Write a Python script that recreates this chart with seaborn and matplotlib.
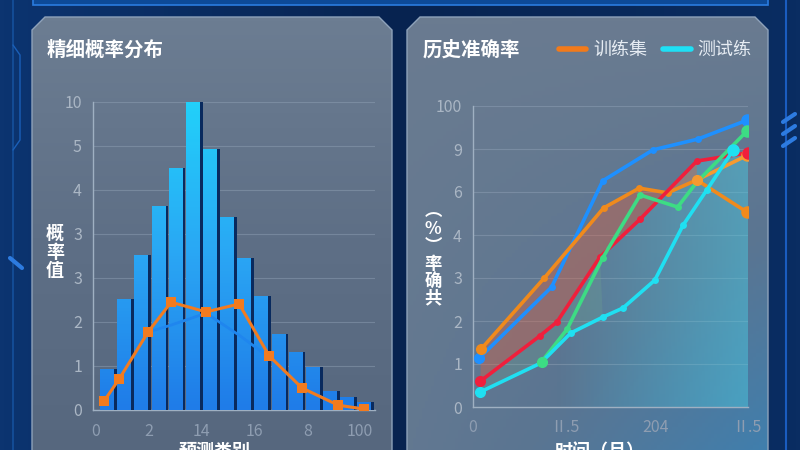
import numpy as np
import pandas as pd
import seaborn as sns
import matplotlib.pyplot as plt
from matplotlib.patches import Polygon, Rectangle
from matplotlib.lines import Line2D
from matplotlib.colors import LinearSegmentedColormap
import matplotlib.patheffects as pe

sns.set_theme(style="white")
plt.rcParams['font.family'] = ['Noto Sans CJK SC', 'DejaVu Sans']

# ---- left panel: 精细概率分布 ----
bar_vals = [0.93, 2.52, 3.52, 4.64, 5.5, 7.07, 5.93, 4.39, 3.45, 2.59,
            1.73, 1.32, 0.98, 0.43, 0.30, 0.18]
dist_x = [-0.18, 0.70, 2.39, 3.74, 5.78, 7.71, 9.46, 11.38, 13.49, 15.0]
dist_y = [0.2, 0.70, 1.77, 2.45, 2.23, 2.41, 1.23, 0.5, 0.11, 0.02]
trend_x = [2.39, 3.74, 5.78, 7.71, 9.46, 11.38, 13.49, 15.0]
trend_y = [1.77, 1.93, 2.2, 1.7, 1.2, 0.5, 0.11, 0.02]
left_ylabels = ["0", "1", "2", "3", "3", "4", "5", "10"]
left_xlabels = ["0", "2", "14", "16", "8", "100"]

# ---- right panel: 历史准确率 ----
train_x = [0.09, 0.78, 1.43, 1.82, 2.13, 2.45, 3.0]
train_y = [1.35, 3.0, 4.63, 5.09, 4.98, 5.28, 4.53]
train2_x = [2.45, 3.0]
train2_y = [5.28, 5.85]
blue_x = [0.07, 0.86, 1.42, 1.97, 2.46, 3.0]
blue_y = [1.14, 2.79, 5.26, 5.98, 6.23, 6.67]
red_x = [0.08, 0.73, 0.92, 1.39, 1.83, 2.45, 3.01]
red_y = [0.6, 1.65, 1.98, 3.49, 4.37, 5.72, 5.91]
green_x = [0.75, 1.03, 1.42, 1.83, 2.24, 2.45, 3.0]
green_y = [1.05, 1.81, 3.47, 4.93, 4.65, 5.23, 6.42]
test_x = [0.08, 0.74, 1.07, 1.42, 1.64, 1.99, 2.30, 2.56, 2.85]
test_y = [0.35, 1.02, 1.72, 2.09, 2.30, 2.95, 4.23, 5.05, 5.98]
right_ylabels = ["0", "1", "2", "3", "4", "6", "9", "100"]
right_xlabels = ["0", "Ⅱ.5", "204", "Ⅱ.5"]

fig = plt.figure(figsize=(8, 4.5), dpi=100)
fig.patch.set_facecolor("#08244f")

# background layer in pixel coordinates
bg = fig.add_axes([0, 0, 1, 1], zorder=-10)
bg.set_xlim(0, 800)
bg.set_ylim(450, 0)
bg.axis("off")
bgrad = np.linspace(0, 1, 200).reshape(1, -1)
bg.imshow(bgrad, extent=(0, 800, 450, 0), aspect="auto",
          cmap=LinearSegmentedColormap.from_list("b", ["#0c3470", "#072350", "#0a2d62"]))
bg.add_patch(Rectangle((33, -6), 735, 11, fc="#0d4a98", ec="#2a7ce0", lw=1.2))
bg.plot([13, 13], [0, 450], color="#15509c", lw=1.2)
bg.plot([13, 20, 20, 13], [45, 55, 140, 150], color="#1a5fb8", lw=1)
bg.plot([786, 786], [0, 450], color="#1a5cc0", lw=1.5)
for yy in (118, 130, 142):
    bg.plot([783, 795], [yy + 4, yy - 4], color="#2d7be0", lw=3, solid_capstyle="round")
bg.plot([10, 22], [258, 268], color="#2d7be0", lw=3)


def card(x0, x1, cmap_cols, diag=False):
    poly = Polygon([(x0, 460), (x0, 30), (x0 + 13, 17), (x1 - 13, 17), (x1, 30), (x1, 460)],
                   closed=True, fc="none", ec="#8ea2ba", lw=1.0, zorder=2)
    bg.add_patch(poly)
    if diag:
        gx, gy = np.meshgrid(np.linspace(0, 1, 120), np.linspace(0, 1, 120))
        img = np.clip(0.25 * gy + 0.75 * gx * gy, 0, 1)
    else:
        img = np.linspace(0, 1, 120).reshape(-1, 1)
    im = bg.imshow(img, extent=(x0, x1, 460, 17), aspect="auto", zorder=1,
                   cmap=LinearSegmentedColormap.from_list("c", cmap_cols), vmin=0, vmax=1)
    im.set_clip_path(poly)


card(32, 392, ["#6c7d92", "#5e6f86", "#56677e"])
card(407, 768, ["#6a7b90", "#5a7592", "#3f7fae"], diag=True)

tick_col = "#aab6c4"
grid_col = "#93a4b8"

# ---- left chart ----
ax1 = fig.add_axes([93 / 800, 40 / 450, 282 / 800, 308 / 450])
ax1.patch.set_alpha(0)
df_bar = pd.DataFrame({"bin": np.arange(len(bar_vals)), "val": bar_vals})
sns.barplot(data=df_bar, x="bin", y="val", color="#2490f0", width=0.8,
            linewidth=0, ax=ax1, zorder=3)
bar_cmap = LinearSegmentedColormap.from_list("bar", ["#1f7ce8", "#2aa6f4", "#22d0fa"])
for p in ax1.patches:
    p.set_path_effects([pe.SimplePatchShadow(offset=(2.2, 0), shadow_rgbFace="#092a5e", alpha=1.0),
                        pe.Normal()])
    x0 = p.get_x()
    im = ax1.imshow(np.linspace(1, 0, 100).reshape(-1, 1), extent=(x0, x0 + p.get_width(), 0, 7),
                    aspect="auto", cmap=bar_cmap, vmin=0, vmax=1, zorder=3.5)
    im.set_clip_path(p)
sns.lineplot(x=trend_x, y=trend_y, color="#1f86ee", lw=2, ax=ax1, zorder=4)
sns.lineplot(x=dist_x, y=dist_y, color="#f27b1f", lw=2.2, marker="s", ms=7,
             markeredgewidth=0, ax=ax1, zorder=5)
ax1.set_xlim(-0.82, 15.64)
ax1.set_ylim(0, 7)
ax1.set_yticks(range(8))
ax1.set_yticklabels(left_ylabels)
ax1.set_xticks(np.linspace(-0.64, 14.77, 6))
ax1.set_xticklabels(left_xlabels)

# ---- right chart ----
ax2 = fig.add_axes([473 / 800, 43 / 450, 275 / 800, 301 / 450])
ax2.patch.set_alpha(0)
teal = ax2.fill(np.r_[red_x, red_x[-1], red_x[0]], np.r_[red_y, 0, 0],
                fc="none", lw=0, zorder=1)[0]
ramp = np.zeros((2, 200, 4))
ramp[..., 0], ramp[..., 1], ramp[..., 2] = 0.30, 0.78, 0.87
ramp[..., 3] = np.clip((np.linspace(0, 3.01, 200) - 0.9) / 2.1, 0, 1) * 0.5
tim = ax2.imshow(ramp, extent=(0, 3.01, 0, 7), aspect="auto", zorder=1)
tim.set_clip_path(teal)
ax2.fill(np.r_[train_x[:6], red_x[:6][::-1]], np.r_[train_y[:6], red_y[:6][::-1]],
         color="#e2603c", alpha=0.38, lw=0, zorder=1.5)
ax2.fill(np.r_[red_x[:4], test_x[:4][::-1]], np.r_[red_y[:4], test_y[:4][::-1]],
         color="#73b08c", alpha=0.22, lw=0, zorder=1.5)
lines = [
    (blue_x, blue_y, "#1e90ff"),
    (train_x, train_y, "#f08a1c"),
    (train2_x, train2_y, "#f59a30"),
    (red_x, red_y, "#f01f3c"),
    (green_x, green_y, "#3ddc84"),
    (test_x, test_y, "#1fe0f2"),
]
for lx, ly, c in lines:
    sns.lineplot(x=lx, y=ly, color=c, lw=2.6, marker="o", ms=5, markeredgewidth=0,
                 ax=ax2, zorder=3, sort=False)
for lx, ly, c in lines:
    ax2.plot([lx[-1]], [ly[-1]], "o", color=c, ms=8, zorder=4)
    ax2.plot([lx[0]], [ly[0]], "o", color=c, ms=7, zorder=4)
ax2.set_xlim(0, 3.01)
ax2.set_ylim(0, 7)
ax2.set_yticks(range(8))
ax2.set_yticklabels(right_ylabels)
ax2.set_xticks(range(4))
ax2.set_xticklabels(right_xlabels)

for ax in (ax1, ax2):
    ax.grid(axis="y", color=grid_col, alpha=0.45, lw=0.8, zorder=0)
    ax.grid(axis="x", visible=False)
    ax.set_axisbelow(True)
    for s in ("top", "right"):
        ax.spines[s].set_visible(False)
    for s in ("left", "bottom"):
        ax.spines[s].set_color("#9fb0c2")
        ax.spines[s].set_linewidth(1.0)
    ax.tick_params(axis="y", length=0, pad=8, labelsize=11.5, labelcolor=tick_col)
    ax.tick_params(axis="x", length=4, direction="in", color="#9fb0c2", pad=9,
                   labelsize=11.5, labelcolor="#8e9db1")
    ax.set_xlabel("")
    ax.set_ylabel("")

# titles, axis labels, legend
fig.text(47 / 800, 1 - 50 / 450, "精细概率分布", fontsize=14, weight="bold", color="white", va="center")
fig.text(423 / 800, 1 - 50 / 450, "历史准确率", fontsize=14, weight="bold", color="white", va="center")
fig.text(55 / 800, 1 - 252 / 450, "概\n率\n值", fontsize=13, weight="bold", color="white",
         ha="center", va="center", linespacing=1.0)
fig.text(433 / 800, 1 - 255 / 450, "︵\n%\n︶\n率\n确\n共", fontsize=12.5, weight="bold",
         color="white", ha="center", va="center", linespacing=0.95)
fig.text(215 / 800, 1 - 442 / 450, "预测类别", fontsize=13, weight="bold", color="white",
         ha="center", va="top")
fig.text(600 / 800, 1 - 442 / 450, "时间（月）", fontsize=13, weight="bold", color="white",
         ha="center", va="top")

handles = [Line2D([], [], color="#f27a1a", lw=4), Line2D([], [], color="#1ee0f5", lw=4)]
fig.legend(handles, ["训练集", "测试练"], loc="center right", bbox_to_anchor=(768 / 800, 1 - 50 / 450),
           ncol=2, frameon=False, fontsize=13, labelcolor="#e6ecf3", handlelength=1.5,
           handletextpad=0.4, columnspacing=0.9)

fig.savefig("out.png", dpi=100, facecolor=fig.get_facecolor())
